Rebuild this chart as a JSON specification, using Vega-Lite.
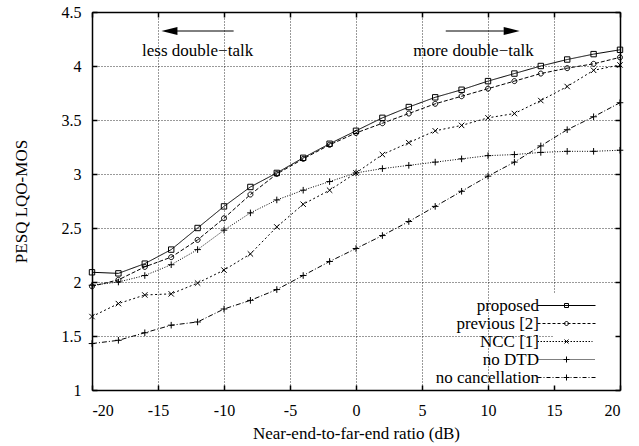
{
  "$schema": "https://vega.github.io/schema/vega-lite/v6.json",
  "width": 528,
  "height": 378,
  "autosize": {"type": "none"},
  "padding": {"left": 92, "top": 12, "right": 19, "bottom": 56},
  "background": "white",
  "config": {
    "font": "Liberation Serif, Times New Roman, DejaVu Serif, serif",
    "view": {"stroke": null},
    "axis": {
      "labelFont": "Liberation Serif, Times New Roman, DejaVu Serif, serif",
      "labelFontSize": 16,
      "labelColor": "black",
      "titleFont": "Liberation Serif, Times New Roman, DejaVu Serif, serif",
      "titleFontSize": 17,
      "titleFontWeight": "normal",
      "titleColor": "black",
      "tickColor": "black",
      "domainColor": "black",
      "gridColor": "black",
      "gridDash": [1, 2],
      "gridOpacity": 1,
      "gridWidth": 0.8
    }
  },
  "datasets": {
    "d": [
      {"x": -20, "s": "proposed", "y": 2.09}, {"x": -18, "s": "proposed", "y": 2.08}, {"x": -16, "s": "proposed", "y": 2.17}, {"x": -14, "s": "proposed", "y": 2.30}, {"x": -12, "s": "proposed", "y": 2.50}, {"x": -10, "s": "proposed", "y": 2.70}, {"x": -8, "s": "proposed", "y": 2.88}, {"x": -6, "s": "proposed", "y": 3.01}, {"x": -4, "s": "proposed", "y": 3.15}, {"x": -2, "s": "proposed", "y": 3.28}, {"x": 0, "s": "proposed", "y": 3.40}, {"x": 2, "s": "proposed", "y": 3.52}, {"x": 4, "s": "proposed", "y": 3.62}, {"x": 6, "s": "proposed", "y": 3.71}, {"x": 8, "s": "proposed", "y": 3.78}, {"x": 10, "s": "proposed", "y": 3.86}, {"x": 12, "s": "proposed", "y": 3.93}, {"x": 14, "s": "proposed", "y": 4.00}, {"x": 16, "s": "proposed", "y": 4.06}, {"x": 18, "s": "proposed", "y": 4.11}, {"x": 20, "s": "proposed", "y": 4.15},
      {"x": -20, "s": "previous [2]", "y": 1.96}, {"x": -18, "s": "previous [2]", "y": 2.02}, {"x": -16, "s": "previous [2]", "y": 2.14}, {"x": -14, "s": "previous [2]", "y": 2.23}, {"x": -12, "s": "previous [2]", "y": 2.39}, {"x": -10, "s": "previous [2]", "y": 2.59}, {"x": -8, "s": "previous [2]", "y": 2.81}, {"x": -6, "s": "previous [2]", "y": 3.00}, {"x": -4, "s": "previous [2]", "y": 3.14}, {"x": -2, "s": "previous [2]", "y": 3.27}, {"x": 0, "s": "previous [2]", "y": 3.38}, {"x": 2, "s": "previous [2]", "y": 3.47}, {"x": 4, "s": "previous [2]", "y": 3.56}, {"x": 6, "s": "previous [2]", "y": 3.65}, {"x": 8, "s": "previous [2]", "y": 3.72}, {"x": 10, "s": "previous [2]", "y": 3.79}, {"x": 12, "s": "previous [2]", "y": 3.86}, {"x": 14, "s": "previous [2]", "y": 3.93}, {"x": 16, "s": "previous [2]", "y": 3.98}, {"x": 18, "s": "previous [2]", "y": 4.02}, {"x": 20, "s": "previous [2]", "y": 4.08},
      {"x": -20, "s": "NCC [1]", "y": 1.68}, {"x": -18, "s": "NCC [1]", "y": 1.80}, {"x": -16, "s": "NCC [1]", "y": 1.88}, {"x": -14, "s": "NCC [1]", "y": 1.89}, {"x": -12, "s": "NCC [1]", "y": 1.99}, {"x": -10, "s": "NCC [1]", "y": 2.11}, {"x": -8, "s": "NCC [1]", "y": 2.26}, {"x": -6, "s": "NCC [1]", "y": 2.51}, {"x": -4, "s": "NCC [1]", "y": 2.72}, {"x": -2, "s": "NCC [1]", "y": 2.85}, {"x": 0, "s": "NCC [1]", "y": 3.01}, {"x": 2, "s": "NCC [1]", "y": 3.18}, {"x": 4, "s": "NCC [1]", "y": 3.29}, {"x": 6, "s": "NCC [1]", "y": 3.40}, {"x": 8, "s": "NCC [1]", "y": 3.45}, {"x": 10, "s": "NCC [1]", "y": 3.52}, {"x": 12, "s": "NCC [1]", "y": 3.56}, {"x": 14, "s": "NCC [1]", "y": 3.68}, {"x": 16, "s": "NCC [1]", "y": 3.81}, {"x": 18, "s": "NCC [1]", "y": 3.96}, {"x": 20, "s": "NCC [1]", "y": 4.01},
      {"x": -20, "s": "no DTD", "y": 1.97}, {"x": -18, "s": "no DTD", "y": 2.00}, {"x": -16, "s": "no DTD", "y": 2.06}, {"x": -14, "s": "no DTD", "y": 2.16}, {"x": -12, "s": "no DTD", "y": 2.30}, {"x": -10, "s": "no DTD", "y": 2.48}, {"x": -8, "s": "no DTD", "y": 2.64}, {"x": -6, "s": "no DTD", "y": 2.76}, {"x": -4, "s": "no DTD", "y": 2.85}, {"x": -2, "s": "no DTD", "y": 2.93}, {"x": 0, "s": "no DTD", "y": 3.01}, {"x": 2, "s": "no DTD", "y": 3.05}, {"x": 4, "s": "no DTD", "y": 3.08}, {"x": 6, "s": "no DTD", "y": 3.11}, {"x": 8, "s": "no DTD", "y": 3.14}, {"x": 10, "s": "no DTD", "y": 3.17}, {"x": 12, "s": "no DTD", "y": 3.18}, {"x": 14, "s": "no DTD", "y": 3.20}, {"x": 16, "s": "no DTD", "y": 3.21}, {"x": 18, "s": "no DTD", "y": 3.21}, {"x": 20, "s": "no DTD", "y": 3.22},
      {"x": -20, "s": "no cancellation", "y": 1.43}, {"x": -18, "s": "no cancellation", "y": 1.46}, {"x": -16, "s": "no cancellation", "y": 1.53}, {"x": -14, "s": "no cancellation", "y": 1.60}, {"x": -12, "s": "no cancellation", "y": 1.63}, {"x": -10, "s": "no cancellation", "y": 1.75}, {"x": -8, "s": "no cancellation", "y": 1.83}, {"x": -6, "s": "no cancellation", "y": 1.93}, {"x": -4, "s": "no cancellation", "y": 2.06}, {"x": -2, "s": "no cancellation", "y": 2.19}, {"x": 0, "s": "no cancellation", "y": 2.31}, {"x": 2, "s": "no cancellation", "y": 2.43}, {"x": 4, "s": "no cancellation", "y": 2.56}, {"x": 6, "s": "no cancellation", "y": 2.70}, {"x": 8, "s": "no cancellation", "y": 2.84}, {"x": 10, "s": "no cancellation", "y": 2.98}, {"x": 12, "s": "no cancellation", "y": 3.11}, {"x": 14, "s": "no cancellation", "y": 3.26}, {"x": 16, "s": "no cancellation", "y": 3.41}, {"x": 18, "s": "no cancellation", "y": 3.53}, {"x": 20, "s": "no cancellation", "y": 3.66}
    ]
  },
  "data": {"name": "d"},
  "layer": [
    {
      "mark": {"type": "line", "strokeWidth": 1, "color": "black"},
      "encoding": {
        "x": {"field": "x", "type": "quantitative", "scale": {"domain": [-20, 20], "nice": false},
          "axis": {"orient": "bottom", "values": [-20, -15, -10, -5, 0, 5, 10, 15, 20], "grid": true, "ticks": false, "domain": false, "labelPadding": 12, "labelExpr": "'' + datum.value", "title": "Near-end-to-far-end ratio (dB)", "titlePadding": 7, "zindex": 0}},
        "y": {"field": "y", "type": "quantitative", "scale": {"domain": [1, 4.5], "nice": false, "zero": false},
          "axis": {"orient": "left", "values": [1, 1.5, 2, 2.5, 3, 3.5, 4, 4.5], "grid": true, "ticks": false, "domain": false, "labelPadding": 11, "labelExpr": "'' + datum.value", "title": "PESQ LQO-MOS", "titlePadding": 31, "zindex": 0}},
        "strokeDash": {"field": "s", "type": "nominal",
          "scale": {"domain": ["proposed", "previous [2]", "NCC [1]", "no DTD", "no cancellation"], "range": [[1, 0], [4, 2], [2, 2.5], [1, 1.5], [5, 2, 1, 2]]},
          "legend": null}
      }
    },
    {
      "mark": {"type": "point", "filled": false, "color": "black", "strokeWidth": 1, "size": 4, "opacity": 1},
      "encoding": {
        "x": {"field": "x", "type": "quantitative",
          "axis": {"orient": "bottom", "values": [-20, -15, -10, -5, 0, 5, 10, 15, 20], "grid": false, "labels": false, "ticks": true, "tickSize": -5, "tickWidth": 1.5, "domain": true, "domainWidth": 1.5, "title": null, "zindex": 1}},
        "y": {"field": "y", "type": "quantitative",
          "axis": {"orient": "left", "values": [1, 1.5, 2, 2.5, 3, 3.5, 4, 4.5], "grid": false, "labels": false, "ticks": true, "tickSize": -5, "tickWidth": 1.5, "domain": true, "domainWidth": 1.5, "title": null, "zindex": 1}},
        "shape": {"field": "s", "type": "nominal",
          "scale": {"domain": ["proposed", "previous [2]", "NCC [1]", "no DTD", "no cancellation"],
            "range": ["M-2.7,-2.7H2.7V2.7H-2.7Z", "M2.5,0A2.5,2.5,0,1,1,-2.5,0A2.5,2.5,0,1,1,2.5,0Z", "M-2.7,-2.7L2.7,2.7M-2.7,2.7L2.7,-2.7", "M-3.3,0H3.3M0,-3.3V3.3", "M-3.3,0H3.3M0,-3.3V3.3"]},
          "legend": null}
      }
    },
    {
      "mark": {"type": "point", "filled": false, "color": "black", "strokeWidth": 1, "size": 4, "opacity": 0},
      "encoding": {
        "x": {"field": "x", "type": "quantitative",
          "axis": {"orient": "top", "values": [-20, -15, -10, -5, 0, 5, 10, 15, 20], "grid": false, "labels": false, "ticks": true, "tickSize": -5, "tickWidth": 1.5, "domain": true, "domainWidth": 1.5, "title": null, "zindex": 1}},
        "y": {"field": "y", "type": "quantitative",
          "axis": {"orient": "right", "values": [1, 1.5, 2, 2.5, 3, 3.5, 4, 4.5], "grid": false, "labels": false, "ticks": true, "tickSize": -5, "tickWidth": 1.5, "domain": true, "domainWidth": 1.5, "title": null, "zindex": 1}},
        "shape": {"field": "s", "type": "nominal",
          "scale": {"domain": ["proposed", "previous [2]", "NCC [1]", "no DTD", "no cancellation"],
            "range": [
              "M-190,0M47,0M-29,0H29M-2,-2H2V2H-2Z",
              "M-190,0M47,0M-29,0h3m2,0h3m2,0h3m2,0h3m2,0h3m2,0h3m2,0h3m2,0h3m2,0h3m2,0h3m2,0h3m2,0h3M2,0A2,2,0,1,1,-2,0A2,2,0,1,1,2,0Z",
              "M-190,0M47,0M-29,0h1.5m1.5,0h1.5m1.5,0h1.5m1.5,0h1.5m1.5,0h1.5m1.5,0h1.5m1.5,0h1.5m1.5,0h1.5m1.5,0h1.5m1.5,0h1.5m1.5,0h1.5m1.5,0h1.5m1.5,0h1.5m1.5,0h1.5m1.5,0h1.5m1.5,0h1.5m1.5,0h1.5m1.5,0h1.5m1.5,0h1M-2,-2L2,2M-2,2L2,-2",
              "M-190,0M47,0M-29,0h1m1,0h1m1,0h1m1,0h1m1,0h1m1,0h1m1,0h1m1,0h1m1,0h1m1,0h1m1,0h1m1,0h1m1,0h1m1,0h1m1,0h1m1,0h1m1,0h1m1,0h1m1,0h1m1,0h1m1,0h1m1,0h1m1,0h1m1,0h1m1,0h1m1,0h1m1,0h1m1,0h1m1,0h1m1,0M-3,0H3M0,-3V3",
              "M-190,0M47,0M-29,0h4m2,0h1m2,0h4m2,0h1m2,0h4m2,0h1m2,0h4m2,0h1m2,0h4m2,0h1m2,0h4m2,0h1m2,0h4M-3,0H3M0,-3V3"
            ]},
          "legend": {
            "orient": "bottom-right", "title": null, "offset": 0, "padding": 4,
            "fillColor": "white", "strokeColor": null,
            "labelAlign": "right", "labelOffset": -36, "labelFont": "Liberation Serif, Times New Roman, DejaVu Serif, serif", "labelFontSize": 17, "labelColor": "black", "labelLimit": 0,
            "symbolSize": 4, "symbolStrokeColor": "black", "symbolStrokeWidth": 1, "symbolFillColor": "transparent", "symbolOpacity": 1,
            "rowPadding": 0
          }
        }
      }
    },
    {
      "data": {"values": [{}]},
      "mark": {"type": "text", "font": "Liberation Serif, Times New Roman, DejaVu Serif, serif", "fontSize": 17, "color": "black", "baseline": "middle", "align": "center", "text": "less double−talk"},
      "encoding": {"x": {"datum": -12.0, "type": "quantitative", "axis": null}, "y": {"datum": 4.14, "type": "quantitative", "axis": null}}
    },
    {
      "data": {"values": [{}]},
      "mark": {"type": "text", "font": "Liberation Serif, Times New Roman, DejaVu Serif, serif", "fontSize": 17, "color": "black", "baseline": "middle", "align": "center", "text": "more double−talk"},
      "encoding": {"x": {"datum": 8.9, "type": "quantitative", "axis": null}, "y": {"datum": 4.14, "type": "quantitative", "axis": null}}
    },
    {
      "data": {"values": [{}]},
      "mark": {"type": "rule", "color": "black", "strokeWidth": 1},
      "encoding": {"x": {"datum": -13.6, "type": "quantitative", "axis": null}, "x2": {"datum": -9.27}, "y": {"datum": 4.324, "type": "quantitative", "axis": null}}
    },
    {
      "data": {"values": [{}]},
      "mark": {"type": "rule", "color": "black", "strokeWidth": 1},
      "encoding": {"x": {"datum": 6.8, "type": "quantitative", "axis": null}, "x2": {"datum": 11.2}, "y": {"datum": 4.324, "type": "quantitative", "axis": null}}
    },
    {
      "data": {"values": [{}]},
      "mark": {"type": "point", "filled": true, "color": "black", "opacity": 1, "size": 256, "shape": "M0,0L2,-0.5L2,0.5Z"},
      "encoding": {"x": {"datum": -14.74, "type": "quantitative", "axis": null}, "y": {"datum": 4.324, "type": "quantitative", "axis": null}}
    },
    {
      "data": {"values": [{}]},
      "mark": {"type": "point", "filled": true, "color": "black", "opacity": 1, "size": 256, "shape": "M0,0L-2,-0.5L-2,0.5Z"},
      "encoding": {"x": {"datum": 12.4, "type": "quantitative", "axis": null}, "y": {"datum": 4.324, "type": "quantitative", "axis": null}}
    }
  ],
  "resolve": {"scale": {"shape": "independent"}, "axis": {"x": "independent", "y": "independent"}}
}
